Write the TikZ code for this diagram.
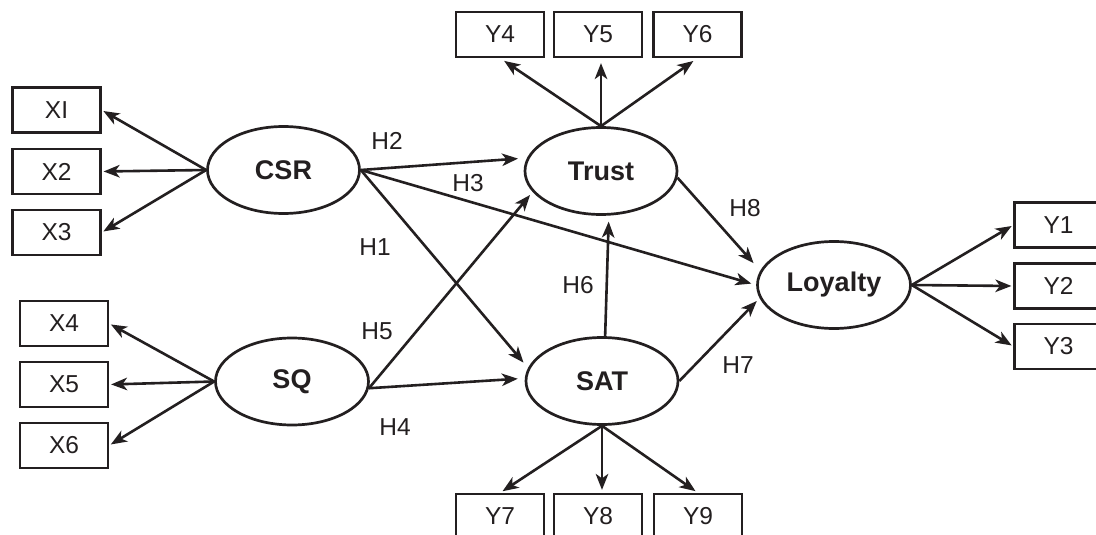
\documentclass[tikz,border=0pt]{standalone}
\usepackage{fontspec}
\setmainfont{Liberation Sans}
\usetikzlibrary{shapes.geometric,arrows.meta}
\definecolor{ink}{RGB}{35,31,32}
\begin{document}
\begin{tikzpicture}[x=1pt,y=-1pt,
  box/.style={draw=ink, text=ink, line width=2.2pt, minimum width=88pt, minimum height=45pt, inner sep=0pt, font=\fontsize{24.5}{24.5}\selectfont},
  lat/.style={draw=ink, text=ink, ellipse, line width=2.7pt, minimum width=152pt, minimum height=87pt, inner sep=0pt, font=\bfseries\fontsize{27}{27}\selectfont},
  arr/.style={draw=ink, line width=2.6pt, -{Stealth[length=16pt,width=12.5pt,inset=4.5pt]}},
  hl/.style={text=ink, font=\fontsize{24.5}{24.5}\selectfont, inner sep=0pt}]
\clip (0,0) rectangle (1096,535);
\fill[white] (0,0) rectangle (1096,535);
% indicator boxes
\node[box] (X1) at (56.5,110) {XI};
\node[box] (X2) at (56.5,171.5) {X2};
\node[box] (X3) at (56.5,232.5) {X3};
\node[box] (X4) at (64,323.5) {X4};
\node[box] (X5) at (64,384.5) {X5};
\node[box] (X6) at (64,445.5) {X6};
\node[box] (Y4) at (500,34.5) {Y4};
\node[box] (Y5) at (598,34.5) {Y5};
\node[box] (Y6) at (697.5,34.5) {Y6};
\node[box] (Y7) at (500,516.5) {Y7};
\node[box] (Y8) at (598,516.5) {Y8};
\node[box] (Y9) at (698,516.5) {Y9};
\node[box] (Y1) at (1058.5,225) {Y1};
\node[box] (Y2) at (1058.5,286) {Y2};
\node[box] (Y3) at (1058.5,346.5) {Y3};
% latent variables
\node[lat] (CSR) at (283.5,170) {CSR};
\node[lat, minimum width=153pt] (SQ) at (292,381.5) {SQ};
\node[lat] (Trust) at (601,171) {Trust};
\node[lat] (SAT) at (602,381) {SAT};
\node[lat, minimum width=153pt] (Loyalty) at (834,285) {Loyalty};
% measurement arrows
\foreach \b in {X1,X2,X3} \draw[arr, shorten >=2pt] (CSR.west) -- (\b.east);
\foreach \b in {X4,X5,X6} \draw[arr, shorten >=2pt] (SQ.west) -- (\b.east);
\draw[arr, shorten >=5pt] (Trust.north) -- (Y4.south);
\draw[arr, shorten >=5pt] (Trust.north) -- (Trust.north |- Y5.south);
\draw[arr, shorten >=5pt] (Trust.north) -- (Y6.south);
\draw[arr, shorten >=3pt] (SAT.south) -- (Y7.north);
\draw[arr, shorten >=3pt] (SAT.south) -- (SAT.south |- Y8.north);
\draw[arr, shorten >=3pt] (SAT.south) -- (Y9.north);
\foreach \b in {Y1,Y2,Y3} \draw[arr, shorten >=2pt] (Loyalty.east) -- (\b.west);
% structural arrows
\draw[arr, shorten >=9pt] (CSR.east) -- (Trust.170);
\draw[arr, shorten >=5pt] (CSR.east) -- (Loyalty.west);
\draw[arr, shorten >=7pt] (CSR.east) -- (SAT.170);
\draw[arr, shorten >=4pt] (SQ.-5) -- (Trust.197);
\draw[arr, shorten >=7pt] (SQ.-5) -- (SAT.178);
\draw[arr, shorten >=6pt] (SAT.86) -- (Trust.-80);
\draw[arr, shorten >=10pt] (Trust.-5) -- (Loyalty.169);
\draw[arr, shorten >=4pt] (SAT.east) -- (Loyalty.190);
% hypothesis labels
\node[hl] (H1) at (375,247) {H1};
\node[hl] (H2) at (387,141) {H2};
\node[hl] (H3) at (468,183) {H3};
\node[hl] (H4) at (395,427) {H4};
\node[hl] (H5) at (377,331) {H5};
\node[hl] (H6) at (578,285) {H6};
\node[hl] (H7) at (738,365) {H7};
\node[hl] (H8) at (745,208) {H8};
\end{tikzpicture}
\end{document}
